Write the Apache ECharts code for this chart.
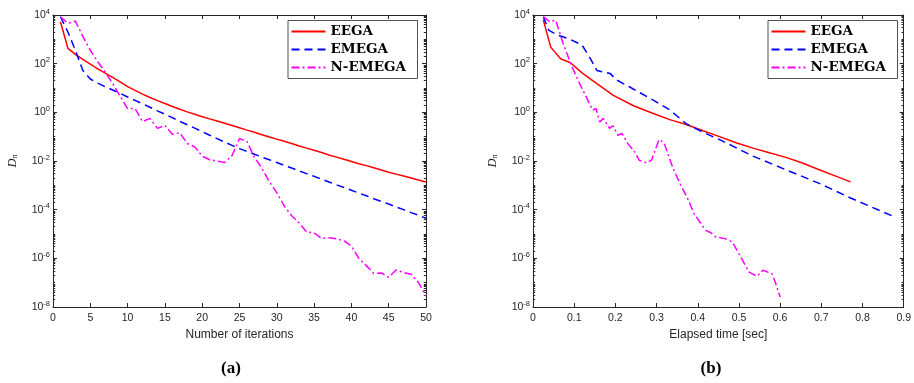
<!DOCTYPE html>
<html><head><meta charset="utf-8">
<script src="https://cdn.jsdelivr.net/npm/echarts@6/dist/echarts.min.js"></script>
<style>html,body{margin:0;padding:0;background:#fff}#c{width:914px;height:383px}</style>
</head><body><div id="c"></div>
<script>
// ---- data (values are log10 of D_n) ----
const seriesNames = ['EEGA', 'EMEGA', 'N-EMEGA'];
const iterations = [1,2,3,4,5,6,7,8,9,10,11,12,13,14,15,16,17,18,19,20,21,22,23,24,25,26,27,28,29,30,31,32,33,34,35,36,37,38,39,40,41,42,43,44,45,46,47,48,49,50];
const eegaIterLog = [3.72,2.63,2.38,2.18,1.98,1.79,1.61,1.44,1.25,1.06,0.90,0.75,0.61,0.48,0.36,0.24,0.13,0.02,-0.08,-0.18,-0.27,-0.36,-0.45,-0.54,-0.63,-0.73,-0.82,-0.92,-1.01,-1.10,-1.19,-1.28,-1.38,-1.47,-1.56,-1.65,-1.75,-1.84,-1.93,-2.02,-2.11,-2.19,-2.28,-2.37,-2.46,-2.54,-2.62,-2.70,-2.78,-2.86];
const emegaIterLog = [3.93,3.30,2.55,1.72,1.37,1.20,1.05,0.92,0.78,0.63,0.49,0.35,0.21,0.06,-0.08,-0.22,-0.37,-0.51,-0.65,-0.79,-0.94,-1.08,-1.22,-1.36,-1.49,-1.61,-1.72,-1.84,-1.95,-2.06,-2.18,-2.29,-2.41,-2.52,-2.63,-2.75,-2.86,-2.98,-3.09,-3.20,-3.32,-3.43,-3.55,-3.66,-3.77,-3.89,-4.00,-4.12,-4.23,-4.35];
const nemegaIterLog = [3.93,3.66,3.75,3.12,2.55,2.08,1.66,1.18,0.66,0.15,0.16,-0.38,-0.25,-0.66,-0.54,-0.90,-0.84,-1.28,-1.42,-1.80,-1.95,-2.00,-2.06,-1.78,-1.08,-1.20,-1.85,-2.30,-2.85,-3.30,-3.85,-4.25,-4.55,-4.92,-4.95,-5.18,-5.15,-5.20,-5.28,-5.50,-6.00,-6.30,-6.62,-6.60,-6.78,-6.48,-6.58,-6.65,-7.00,-7.55];

const eegaTime = [0.025,0.043,0.067,0.091,0.119,0.155,0.195,0.244,0.292,0.332,0.372,0.413,0.453,0.493,0.534,0.574,0.614,0.654,0.695,0.735,0.771];
const eegaTimeLog = [3.80,2.68,2.20,2.04,1.62,1.18,0.70,0.27,-0.05,-0.30,-0.50,-0.76,-1.00,-1.25,-1.47,-1.66,-1.85,-2.08,-2.36,-2.62,-2.86];
const emegaTime = [0.025,0.038,0.059,0.087,0.119,0.139,0.155,0.187,0.203,0.236,0.292,0.332,0.372,0.413,0.453,0.534,0.614,0.695,0.771,0.878];
const emegaTimeLog = [3.93,3.38,3.18,3.02,2.77,2.22,1.72,1.60,1.33,1.03,0.50,0.10,-0.47,-0.82,-1.12,-1.80,-2.36,-2.92,-3.52,-4.30];
const nemegaTime = [0.025,0.041,0.055,0.073,0.093,0.113,0.133,0.145,0.153,0.162,0.171,0.186,0.194,0.206,0.216,0.230,0.246,0.258,0.276,0.288,0.306,0.318,0.340,0.357,0.377,0.391,0.419,0.432,0.443,0.468,0.484,0.500,0.524,0.544,0.558,0.580,0.588,0.600];
const nemegaTimeLog = [3.93,3.72,3.79,2.84,1.94,1.19,0.50,0.09,0.16,-0.39,-0.25,-0.66,-0.55,-0.94,-0.87,-1.28,-1.60,-1.97,-2.08,-1.96,-1.12,-1.25,-2.30,-2.93,-3.60,-4.16,-4.85,-4.95,-5.12,-5.20,-5.33,-5.81,-6.56,-6.74,-6.49,-6.63,-6.97,-7.59];

const yMajorExponents = [-8,-6,-4,-2,0,2,4];
const xTickIter = {min: 0, max: 50, interval: 5};
const xTickTime = {min: 0, max: 0.9, interval: 0.1};
const xNames = ['Number of iterations', 'Elapsed time [sec]'];
const panelLabels = ['(a)', '(b)'];

// ---- styling ----
const AX = '#262626';
const F = '"Liberation Sans", Arial, sans-serif';
const colors = ['#ff0000', '#0000ff', '#ff00ff'];
const dashes = ['solid', [8, 5], [8, 3, 2, 3]];

// minor ticks of the log axis (1..9 x 10^d) in exponent space
const minorExp = [];
for (let d = -8; d < 4; d++) {
  for (let k = 1; k <= 9; k++) {
    const v = d + Math.log10(k);
    if (k === 1 && yMajorExponents.indexOf(d) >= 0) continue;
    minorExp.push(+v.toFixed(6));
  }
}

const grids = [
  {left: 53, top: 15, width: 373, height: 292},
  {left: 533, top: 15, width: 373, height: 292}
];

const xAxes = [], yAxes = [];
[xTickIter, xTickTime].forEach((t, g) => {
  xAxes.push({
    gridIndex: g, type: 'value', position: 'bottom', min: t.min, max: t.max, interval: t.interval,
    axisLine: {show: true, onZero: false, lineStyle: {color: AX, width: 1}},
    axisTick: {show: true, inside: true, length: 4, lineStyle: {color: AX}},
    axisLabel: {show: true, margin: 6, color: AX, fontFamily: F, fontSize: 10.5},
    splitLine: {show: false},
    name: xNames[g], nameLocation: 'middle', nameGap: 21,
    nameTextStyle: {color: AX, fontFamily: F, fontSize: 12}
  });
  xAxes.push({
    gridIndex: g, type: 'value', position: 'top', min: t.min, max: t.max, interval: t.interval,
    axisLine: {show: true, onZero: false, lineStyle: {color: AX, width: 1}},
    axisTick: {show: true, inside: true, length: 4, lineStyle: {color: AX}},
    axisLabel: {show: false}, splitLine: {show: false}
  });
  ['left', 'right'].forEach(pos => {
    const major = {
      gridIndex: g, type: 'value', position: pos, min: -8, max: 4, interval: 2,
      axisLine: {show: true, onZero: false, lineStyle: {color: AX, width: 1}},
      axisTick: {show: true, inside: true, length: 4, lineStyle: {color: AX}},
      splitLine: {show: false},
      axisLabel: {show: false}
    };
    if (pos === 'left') {
      major.axisLabel = {
        show: true, margin: 3,
        formatter: v => '{b|10}{s|' + v + '}',
        rich: {
          b: {fontSize: 10.5, fontFamily: F, color: AX},
          s: {fontSize: 7.5, fontFamily: F, color: AX, padding: [0, 0, 7, 0]}
        }
      };
      major.name = '{d|D}{n|n}';
      major.nameLocation = 'middle';
      major.nameRotate = 90;
      major.nameGap = 34;
      major.nameTextStyle = {
        rich: {
          d: {fontFamily: '"Liberation Serif", serif', fontStyle: 'italic', fontSize: 12.5, color: AX},
          n: {fontFamily: '"Liberation Serif", serif', fontStyle: 'italic', fontSize: 8, color: AX, padding: [5, 0, 0, 0]}
        }
      };
    }
    yAxes.push(major);
    yAxes.push({
      gridIndex: g, type: 'value', position: pos, min: -8, max: 4,
      axisLine: {show: false, onZero: false},
      axisTick: {show: true, inside: true, length: 2.2, customValues: minorExp, lineStyle: {color: AX}},
      axisLabel: {show: false}, splitLine: {show: false}
    });
  });
});

function pairs(xs, ys) { return xs.map((x, i) => [x, ys[i]]); }
const panelData = [
  [pairs(iterations, eegaIterLog), pairs(iterations, emegaIterLog), pairs(iterations, nemegaIterLog)],
  [pairs(eegaTime, eegaTimeLog), pairs(emegaTime, emegaTimeLog), pairs(nemegaTime, nemegaTimeLog)]
];
const series = [];
panelData.forEach((sets, g) => {
  sets.forEach((data, i) => {
    series.push({
      name: seriesNames[i], type: 'line', xAxisIndex: g * 2, yAxisIndex: g * 4,
      data: data, symbol: 'none', smooth: false, animation: false,
      lineStyle: {color: colors[i], width: 1.5, type: dashes[i]},
      itemStyle: {color: colors[i]}
    });
  });
});

const legendBase = {
  orient: 'vertical', top: 20.5, data: seriesNames, selectedMode: false,
  itemWidth: 34, itemHeight: 16, itemGap: 2, padding: [3, 3, 3, 2.5],
  borderColor: AX, borderWidth: 0.8, backgroundColor: '#fff',
  itemStyle: {opacity: 0},
  textStyle: {fontFamily: '"DejaVu Serif", serif', fontWeight: 'bold', fontSize: 13.5, color: '#000', lineHeight: 16, width: 84}
};

const chart = echarts.init(document.getElementById('c'), null, {renderer: 'canvas'});
chart.setOption({
  backgroundColor: '#fff',
  animation: false,
  grid: grids,
  xAxis: xAxes,
  yAxis: yAxes,
  legend: [Object.assign({}, legendBase, {left: 288}), Object.assign({}, legendBase, {left: 768})],
  series: series,
  graphic: [
    {type: 'text', style: {text: panelLabels[0], x: 231, y: 369, align: 'center', verticalAlign: 'middle', textAlign: 'center', textVerticalAlign: 'middle', font: 'bold 17px "Liberation Serif", serif', fill: '#000'}},
    {type: 'text', style: {text: panelLabels[1], x: 711, y: 369, align: 'center', verticalAlign: 'middle', textAlign: 'center', textVerticalAlign: 'middle', font: 'bold 17px "Liberation Serif", serif', fill: '#000'}}
  ]
});
</script></body></html>
